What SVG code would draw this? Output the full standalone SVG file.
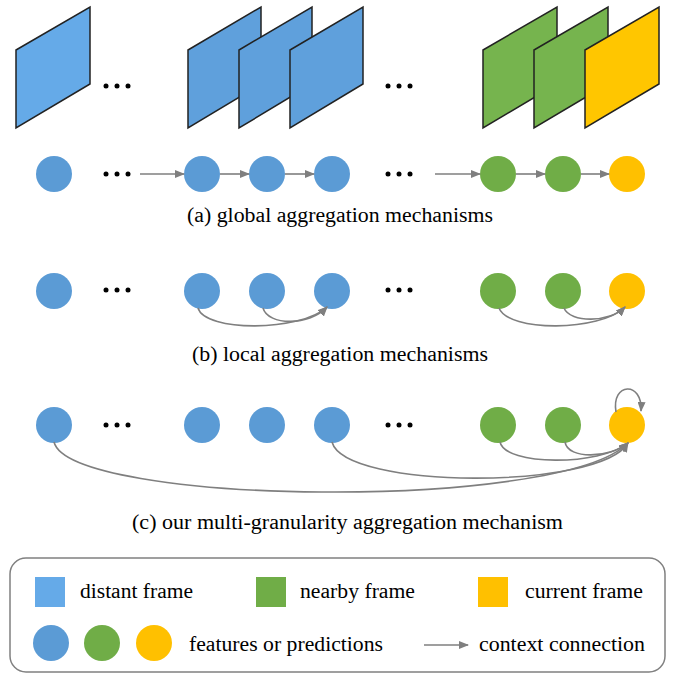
<svg xmlns="http://www.w3.org/2000/svg" width="677" height="673" viewBox="0 0 677 673">
<style>
.fr{stroke:#222;stroke-width:1.5;stroke-linejoin:miter}
.b{fill:#5B9BD5}.g{fill:#70AD47}.y{fill:#FFC000}
.fb{fill:#5FA0DC}.fb1{fill:#65AAE8}.fg{fill:#76B44E}.fy{fill:#FFC600}
.t{font-family:"Liberation Serif","Times New Roman",serif;font-size:20.5px;fill:#000}
.c{stroke:#7F7F7F;stroke-width:1.6;fill:none;marker-end:url(#ah)}
.dot{fill:#000}
</style>
<defs>
<marker id="ah" markerWidth="10" markerHeight="8" refX="9" refY="4" orient="auto" markerUnits="userSpaceOnUse">
<path d="M0,0 L10,4 L0,8 Z" fill="#7F7F7F"/>
</marker>
<g id="dots"><circle cx="0" cy="0" r="2.5"/><circle cx="11" cy="0" r="2.5"/><circle cx="22" cy="0" r="2.5"/></g>
</defs>
<g id="frames">
<polygon id="frame1" class="fr fb1" points="16,50 90,7 90,84 16,128"/>
<polygon id="frame2" class="fr fb" points="188,50 261,7 261,84 188,128"/>
<polygon id="frame3" class="fr fb" points="239,50 312,7 312,84 239,128"/>
<polygon id="frame4" class="fr fb" points="290,50 363,7 363,84 290,128"/>
<polygon id="frame5" class="fr fg" points="483,50 557,7 557,84 483,128"/>
<polygon id="frame6" class="fr fg" points="534,50 608,7 608,84 534,128"/>
<polygon id="frame7" class="fr fy" points="585,50 659,7 659,84 585,128"/>
</g>
<g id="ellipsis" class="dot">
<use href="#dots" x="106" y="86"/><use href="#dots" x="388" y="86"/>
<use href="#dots" x="106" y="174"/><use href="#dots" x="388" y="174"/>
<use href="#dots" x="106" y="290"/><use href="#dots" x="388" y="290"/>
<use href="#dots" x="106" y="425"/><use href="#dots" x="388" y="425"/>
</g>
<g id="rowA">
<circle class="b" cx="54" cy="174" r="18"/>
<circle class="b" cx="202" cy="174" r="18"/>
<circle class="b" cx="267" cy="174" r="18"/>
<circle class="b" cx="332" cy="174" r="18"/>
<circle class="g" cx="498" cy="174" r="18"/>
<circle class="g" cx="563" cy="174" r="18"/>
<circle class="y" cx="627" cy="174" r="18"/>
</g>
<g id="rowB">
<circle class="b" cx="54" cy="291" r="18"/>
<circle class="b" cx="202" cy="291" r="18"/>
<circle class="b" cx="267" cy="291" r="18"/>
<circle class="b" cx="332" cy="291" r="18"/>
<circle class="g" cx="498" cy="291" r="18"/>
<circle class="g" cx="563" cy="291" r="18"/>
<circle class="y" cx="627" cy="291" r="18"/>
</g>
<g id="rowC">
<circle class="b" cx="54" cy="425" r="18"/>
<circle class="b" cx="202" cy="425" r="18"/>
<circle class="b" cx="267" cy="425" r="18"/>
<circle class="b" cx="332" cy="425" r="18"/>
<circle class="g" cx="498" cy="425" r="18"/>
<circle class="g" cx="563" cy="425" r="18"/>
<circle class="y" cx="627" cy="425" r="18"/>
</g>
<g id="connectors">
<line class="c" x1="140" y1="174" x2="184" y2="174"/>
<line class="c" x1="220" y1="174" x2="249" y2="174"/>
<line class="c" x1="285" y1="174" x2="314" y2="174"/>
<line class="c" x1="435" y1="174" x2="480" y2="174"/>
<line class="c" x1="516" y1="174" x2="545" y2="174"/>
<line class="c" x1="581" y1="174" x2="609" y2="174"/>
<path class="c" d="M198,308 C205,332 300,332 327,307"/>
<path class="c" d="M263,308 C268,326 310,326 327,307"/>
<path class="c" d="M499,308 C508,332 600,332 625,307"/>
<path class="c" d="M564,308 C570,323 610,323 625,307"/>
<path class="c" d="M54,442 C70,505 560,512 628,443"/>
<path class="c" d="M332,442 C345,490 600,490 628,443"/>
<path class="c" d="M500,442 C505,466 600,466 628,443"/>
<path class="c" d="M565,442 C568,460 610,458 628,443"/>
<path class="c" d="M616,412 C611,382 643,381 641,411"/>
</g>
<g id="captions">
<text class="t" x="187" y="222" textLength="306" lengthAdjust="spacingAndGlyphs">(a) global aggregation mechanisms</text>
<text class="t" x="192" y="361" textLength="296" lengthAdjust="spacingAndGlyphs">(b) local aggregation mechanisms</text>
<text class="t" x="132" y="529" textLength="431" lengthAdjust="spacingAndGlyphs">(c) our multi-granularity aggregation mechanism</text>
</g>
<g id="legend">
<rect x="10" y="558" width="655" height="114" rx="16" fill="#fff" stroke="#808080" stroke-width="1.5"/>
<rect x="35" y="577" width="30" height="30" class="fb1"/>
<text class="t" x="80" y="598" textLength="113" lengthAdjust="spacingAndGlyphs">distant frame</text>
<rect x="256" y="577" width="30" height="30" class="g"/>
<text class="t" x="300" y="598" textLength="115" lengthAdjust="spacingAndGlyphs">nearby frame</text>
<rect x="478" y="577" width="30" height="30" class="y"/>
<text class="t" x="525" y="598" textLength="118" lengthAdjust="spacingAndGlyphs">current frame</text>
<circle class="b" cx="51" cy="643" r="18"/>
<circle class="g" cx="102" cy="643" r="18"/>
<circle class="y" cx="154" cy="643" r="18"/>
<text class="t" x="189" y="651" textLength="194" lengthAdjust="spacingAndGlyphs">features or predictions</text>
<line class="c" x1="424" y1="645" x2="468" y2="645"/>
<text class="t" x="479" y="651" textLength="166" lengthAdjust="spacingAndGlyphs">context connection</text>
</g>
</svg>
